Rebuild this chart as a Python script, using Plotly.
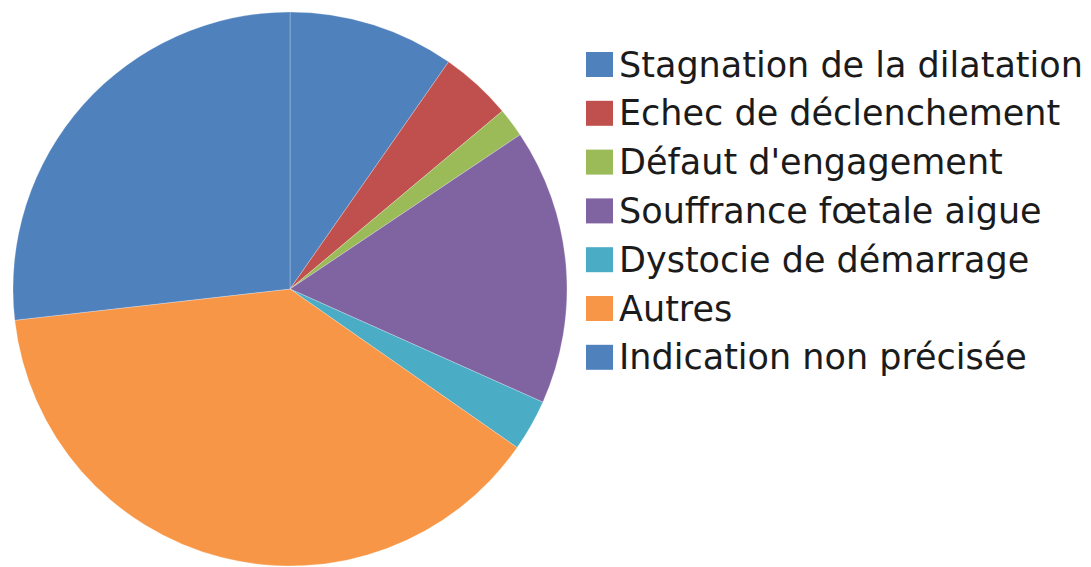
import plotly.graph_objects as go

labels = ["Stagnation de la dilatation", "Echec de déclenchement", "Défaut d'engagement",
          "Souffrance fœtale aigue", "Dystocie de démarrage", "Autres", "Indication non précisée"]
values = [9.7, 4.2, 1.7, 16.1, 3.0, 38.5, 26.8]
colors = ["#4F81BD", "#C0504D", "#9BBB59", "#8064A2", "#4BACC6", "#F79646", "#4F81BD"]

W, H = 1091, 567
OFF = 8  # page body margin offset compensation
cx, cy, r = 290 - OFF, 289 - OFF, 277

fig = go.Figure()
fig.add_trace(go.Pie(
    labels=labels, values=values, sort=False, direction="clockwise", rotation=0,
    marker=dict(colors=colors, line=dict(color="rgba(255,255,255,0.25)", width=1)),
    textinfo="none", hoverinfo="label+percent", showlegend=False,
    domain=dict(x=[(cx - r) / W, (cx + r) / W], y=[(H - cy - r) / H, (H - cy + r) / H]),
))

# manual legend (large square swatches like the original)
row0, step = 64.5 - OFF, 48.8
for i, (lab, col) in enumerate(zip(labels, colors)):
    yc = row0 + i * step
    fig.add_shape(type="rect", xref="x", yref="y", x0=586 - OFF, x1=613 - OFF,
                  y0=yc - 12.5, y1=yc + 12.5, fillcolor=col, line=dict(width=0))
    fig.add_annotation(xref="x", yref="y", x=617 - OFF, y=yc, text=lab, showarrow=False,
                       xanchor="left", yanchor="middle",
                       font=dict(family="DejaVu Sans", size=35, color="#1b1b1b"))

fig.update_layout(
    width=W, height=H, margin=dict(l=0, r=0, t=0, b=0),
    paper_bgcolor="white", plot_bgcolor="rgba(0,0,0,0)",
    xaxis=dict(range=[0, W], visible=False, fixedrange=True),
    yaxis=dict(range=[H, 0], visible=False, fixedrange=True),
    showlegend=False,
)
fig.write_html("out.html")
